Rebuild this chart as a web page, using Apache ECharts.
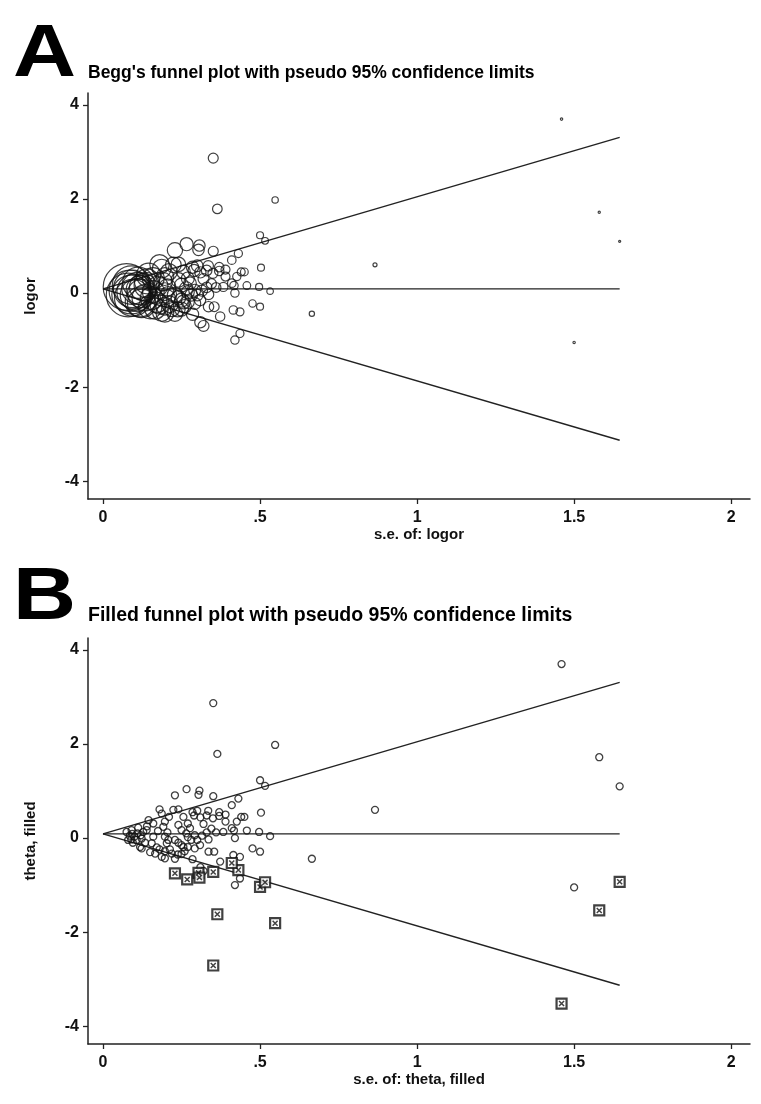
<!DOCTYPE html>
<html>
<head>
<meta charset="utf-8">
<script src="https://cdn.jsdelivr.net/npm/echarts@6/dist/echarts.min.js"></script>
<style>
html,body{margin:0;padding:0;background:#fff;}
#chart{width:761px;height:1104px;}
</style>
</head>
<body>
<div id="chart"></div>
<script>
// ---- data (se, log odds ratio) ----
const studies = [
  [1.46, 3.70], [1.58, 1.72], [1.645, 1.10], [1.50, -1.05], [0.866, 0.60], [0.665, -0.44],
  [0.351, 2.87], [0.364, 1.79], [0.548, 1.98], [0.50, 1.23], [0.516, 1.11],
  [0.229, 0.91], [0.266, 1.04], [0.304, 0.92], [0.307, 1.01], [0.351, 0.89], [0.431, 0.84], [0.41, 0.70],
  [0.503, 0.54], [0.44, 0.45], [0.45, 0.45], [0.426, 0.35], [0.39, 0.35], [0.41, 0.21], [0.417, 0.16],
  [0.383, 0.13], [0.458, 0.16], [0.497, 0.13], [0.532, 0.04], [0.42, 0.00], [0.476, -0.22], [0.50, -0.29],
  [0.415, -0.36], [0.436, -0.40], [0.373, -0.50], [0.336, -0.29], [0.354, -0.29], [0.42, -1.00], [0.436, -0.86],
  [0.336, -0.03], [0.30, -0.04], [0.309, -0.15], [0.31, -0.62], [0.32, -0.70], [0.285, -0.45],
  [0.18, 0.61], [0.187, 0.52], [0.224, 0.60], [0.24, 0.61], [0.256, 0.45], [0.285, 0.55], [0.29, 0.48],
  [0.16, 0.31], [0.197, 0.35], [0.192, 0.24], [0.24, 0.28], [0.25, 0.17], [0.27, 0.31], [0.277, 0.21],
  [0.128, 0.13], [0.139, 0.17], [0.091, 0.17], [0.093, 0.09], [0.10, 0.03], [0.107, -0.04], [0.08, -0.04],
  [0.09, -0.03], [0.123, -0.01], [0.134, -0.10], [0.16, 0.03], [0.155, -0.11], [0.118, -0.19], [0.123, -0.22],
  [0.197, 0.03], [0.208, -0.04], [0.203, -0.11], [0.171, -0.20], [0.18, -0.24], [0.197, -0.28], [0.213, -0.24],
  [0.166, -0.33], [0.187, -0.40], [0.229, -0.04], [0.24, -0.10], [0.25, -0.15], [0.256, -0.19], [0.219, -0.33],
  [0.238, -0.35], [0.25, -0.34], [0.197, -0.43], [0.229, -0.44], [0.27, 0.02], [0.281, -0.04], [0.292, 0.06],
  [0.27, -0.19], [0.292, -0.22], [0.31, 0.44], [0.33, 0.48], [0.32, 0.30], [0.30, 0.58], [0.335, 0.58],
  [0.345, 0.20], [0.36, 0.12], [0.33, 0.12], [0.315, 0.05], [0.35, 0.42], [0.37, 0.47], [0.37, 0.55], [0.39, 0.50],
  [0.075, 0.13], [0.085, 0.05], [0.11, 0.10], [0.095, -0.10], [0.112, 0.22], [0.12, 0.06], [0.145, 0.38],
  [0.15, -0.30], [0.175, 0.15], [0.21, 0.45], [0.26, -0.28], [0.14, 0.25], [0.205, 0.12], [0.265, 0.10]
];
const filled = [
  [1.46, -3.52], [1.58, -1.54], [1.645, -0.93], [0.351, -2.71], [0.364, -1.62], [0.548, -1.81],
  [0.50, -1.04], [0.516, -0.94], [0.229, -0.75], [0.268, -0.88], [0.304, -0.74], [0.307, -0.84],
  [0.351, -0.72], [0.431, -0.68], [0.41, -0.53]
];
const funnelCenter = [[0, 0.09], [1.645, 0.09]];
const funnelUpper = [[0, 0.09], [1.645, 3.31]];
const funnelLower = [[0, 0.09], [1.645, -3.13]];
const xTicks = [0, 0.5, 1, 1.5, 2];
const xTickLabels = ['0', '.5', '1', '1.5', '2'];
const yTicks = [-4, -2, 0, 2, 4];
const yTickLabels = ['-4', '-2', '0', '2', '4'];

const FONT = 'Liberation Sans, Arial, sans-serif';
const INK = '#111';

function xAxisCfg(gridIndex, name) {
  return {
    gridIndex, type: 'value', min: -0.0478, max: 2.06,
    name, nameLocation: 'middle', nameGap: 28,
    nameTextStyle: { fontFamily: FONT, fontWeight: 'bold', fontSize: 15, color: INK },
    axisLine: { onZero: false, lineStyle: { color: '#222', width: 1.5 } },
    axisTick: { show: true, length: 5, lineStyle: { color: '#222', width: 1.3 }, customValues: xTicks },
    axisLabel: {
      customValues: xTicks, margin: 11,
      formatter: v => xTickLabels[xTicks.indexOf(+v)] ?? '',
      fontFamily: FONT, fontWeight: 'bold', fontSize: 16, color: INK
    },
    splitLine: { show: false }
  };
}
function yAxisCfg(gridIndex, name) {
  return {
    gridIndex, type: 'value', min: -4.38, max: 4.255,
    name, nameLocation: 'middle', nameGap: 50, nameRotate: 90,
    nameTextStyle: { fontFamily: FONT, fontWeight: 'bold', fontSize: 15, color: INK },
    axisLine: { onZero: false, lineStyle: { color: '#222', width: 1.5 } },
    axisTick: { show: true, length: 5, lineStyle: { color: '#222', width: 1.3 }, customValues: yTicks },
    axisLabel: {
      customValues: yTicks, margin: 9,
      formatter: v => yTickLabels[yTicks.indexOf(+v)] ?? '',
      fontFamily: FONT, fontWeight: 'bold', fontSize: 16, color: INK
    },
    splitLine: { show: false }
  };
}
function lineSeries(idx, data) {
  return {
    type: 'line', xAxisIndex: idx, yAxisIndex: idx, data, symbol: 'none', silent: true,
    lineStyle: { color: '#222', width: 1.4 }, z: 1, animation: false
  };
}

const chart = echarts.init(document.getElementById('chart'), null, { renderer: 'canvas' });
chart.setOption({
  animation: false,
  backgroundColor: '#fff',
  grid: [
    { left: 88, top: 93, width: 662, height: 406 },
    { left: 88, top: 638, width: 662, height: 406 }
  ],
  xAxis: [xAxisCfg(0, 's.e. of: logor'), xAxisCfg(1, 's.e. of: theta, filled')],
  yAxis: [yAxisCfg(0, 'logor'), yAxisCfg(1, 'theta, filled')],
  graphic: [
    { type: 'text', x: 13, y: 19, scaleX: 1.18, style: { text: 'A', font: 'bold 74px ' + FONT, fill: '#000' } },
    { type: 'text', left: 88, top: 64, style: { text: "Begg's funnel plot with pseudo 95% confidence limits", font: 'bold 17.5px ' + FONT, fill: '#000' } },
    { type: 'text', x: 13, y: 562, scaleX: 1.18, style: { text: 'B', font: 'bold 74px ' + FONT, fill: '#000' } },
    { type: 'text', left: 88, top: 606, style: { text: 'Filled funnel plot with pseudo 95% confidence limits', font: 'bold 19.5px ' + FONT, fill: '#000' } }
  ],
  series: [
    lineSeries(0, funnelCenter), lineSeries(0, funnelUpper), lineSeries(0, funnelLower),
    {
      type: 'scatter', xAxisIndex: 0, yAxisIndex: 0, data: studies, symbol: 'circle',
      symbolSize: d => 3.5 / d[0],
      itemStyle: { color: 'rgba(255,255,255,0)', borderColor: INK, borderWidth: 1.2 }, z: 3
    },
    lineSeries(1, funnelCenter), lineSeries(1, funnelUpper), lineSeries(1, funnelLower),
    {
      type: 'scatter', xAxisIndex: 1, yAxisIndex: 1, data: studies, symbol: 'circle', symbolSize: 7,
      itemStyle: { color: 'rgba(255,255,255,0)', borderColor: INK, borderWidth: 1.3 }, z: 3
    },
    {
      type: 'scatter', xAxisIndex: 1, yAxisIndex: 1, data: filled, symbol: 'rect', symbolSize: 10,
      itemStyle: { color: '#fff', borderColor: INK, borderWidth: 2.2 }, z: 4
    },
    {
      type: 'scatter', xAxisIndex: 1, yAxisIndex: 1, data: filled, symbol: 'path://M0,0L10,10M10,0L0,10', symbolSize: 5,
      itemStyle: { color: 'rgba(255,255,255,0)', borderColor: INK, borderWidth: 1.5 }, z: 5
    }
  ]
});
</script>
</body>
</html>
